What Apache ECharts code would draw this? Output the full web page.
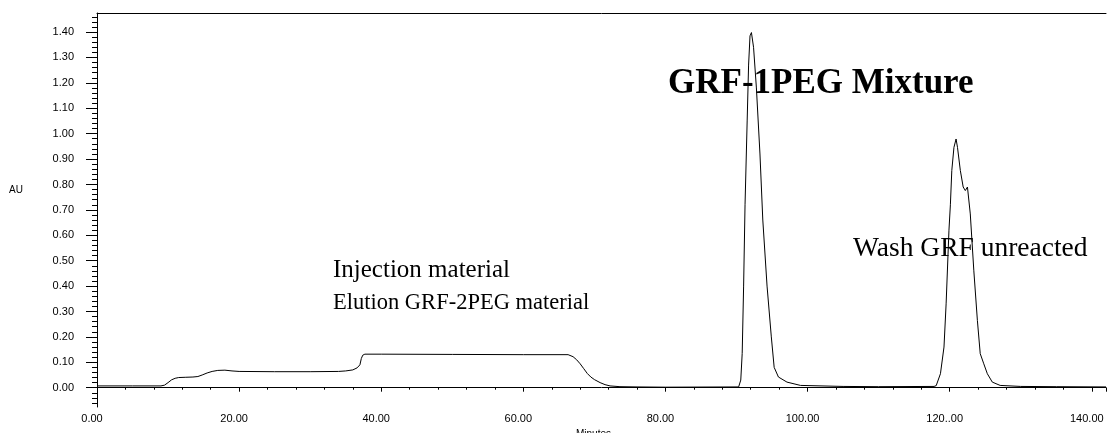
<!DOCTYPE html>
<html>
<head>
<meta charset="utf-8">
<script src="https://cdn.jsdelivr.net/npm/echarts@6/dist/echarts.min.js"></script>
<style>
html,body{margin:0;padding:0;background:#fff;}
#chart{width:1107px;height:433px;}
</style>
</head>
<body>
<div id="chart"></div>
<script>
// Retention time (minutes) and absorbance (AU)
const timeMin = [0,5,9,9.5,10,10.5,11,11.5,12.5,13.5,14.2,14.8,15.5,16.2,17,18,19,20,25,30,34,35,36,36.6,37,37.2,37.4,37.7,40,50,60,66.3,67,67.5,68,68.5,69,69.5,70,70.8,71.5,72.2,73.6,76,80,90.3,90.6,90.8,91.0,91.2,91.5,91.7,91.9,92.1,92.4,92.8,93.3,93.7,94.3,94.9,95.3,95.9,97.1,99,105,110,117.8,118.1,118.7,119.2,119.5,119.9,120.1,120.3,120.6,120.9,121.1,121.5,121.9,122.2,122.5,122.9,123.4,123.9,124.3,124.8,125.3,126.0,127.1,130,135,142];
const absorbance = [0.007,0.007,0.007,0.01,0.02,0.031,0.037,0.04,0.041,0.042,0.044,0.05,0.058,0.064,0.068,0.069,0.066,0.064,0.063,0.063,0.064,0.066,0.07,0.078,0.09,0.115,0.128,0.132,0.132,0.131,0.13,0.13,0.122,0.11,0.094,0.075,0.056,0.042,0.032,0.02,0.012,0.007,0.004,0.003,0.002,0.003,0.03,0.135,0.40,0.72,1.05,1.27,1.385,1.398,1.34,1.18,0.92,0.66,0.40,0.20,0.08,0.042,0.022,0.009,0.005,0.004,0.005,0.008,0.055,0.16,0.33,0.62,0.72,0.855,0.946,0.979,0.946,0.855,0.79,0.776,0.79,0.684,0.46,0.265,0.134,0.094,0.055,0.022,0.009,0.005,0.004,0.003];

const xTickValues = [0,20,40,60,80,100,120,140];
const xTickLabels = ['0.00','20.00','40.00','60.00','80.00','100.00','120..00','140.00'];
const yTickValues = [0,0.1,0.2,0.3,0.4,0.5,0.6,0.7,0.8,0.9,1.0,1.1,1.2,1.3,1.4];
const yTickLabels = ['0.00','0.10','0.20','0.30','0.40','0.50','0.60','0.70','0.80','0.90','1.00','1.10','1.20','1.30','1.40'];
const yMinorValues = [-0.06,-0.04,-0.02,0,0.02,0.04,0.06,0.08,0.1,0.12,0.14,0.16,0.18,0.2,0.22,0.24,0.26,0.28,0.3,0.32,0.34,0.36,0.38,0.4,0.42,0.44,0.46,0.48,0.5,0.52,0.54,0.56,0.58,0.6,0.62,0.64,0.66,0.68,0.7,0.72,0.74,0.76,0.78,0.8,0.82,0.84,0.86,0.88,0.9,0.92,0.94,0.96,0.98,1.0,1.02,1.04,1.06,1.08,1.1,1.12,1.14,1.16,1.18,1.2,1.22,1.24,1.26,1.28,1.3,1.32,1.34,1.36,1.38,1.4,1.42,1.44,1.46];

const yAxisTitle = 'AU';
const annotations = [
  {text:'GRF-1PEG Mixture', x:668, y:84, size:35, weight:'bold'},
  {text:'Injection material', x:333, y:270, size:25, weight:'normal'},
  {text:'Elution GRF-2PEG material', x:333, y:303, size:22.5, weight:'normal'},
  {text:'Wash GRF unreacted', x:853, y:249, size:27.5, weight:'normal'}
];

const seriesData = timeMin.map((t, i) => [t, absorbance[i]]);
const X_MIN = 0, X_MAX = 142, Y_MIN = -0.076, Y_MAX = 1.475;
const sans = '"Liberation Sans", Arial, sans-serif';
const serif = '"Liberation Serif", "Times New Roman", serif';

const chart = echarts.init(document.getElementById('chart'), null, {renderer:'canvas'});
chart.setOption({
  animation: false,
  backgroundColor: '#fff',
  grid: {left: 97, right: 1, top: 13, bottom: 26, containLabel: false, outerBoundsMode: 'none'},
  xAxis: [
    {
      type: 'value', position: 'bottom', min: X_MIN, max: X_MAX, interval: 20,
      name: 'Minutes', nameLocation: 'middle', nameGap: 17,
      nameTextStyle: {fontFamily: sans, fontSize: 10, color: '#000', padding: [0, 16, 0, 0]},
      axisLine: {show: true, lineStyle: {color: '#000', width: 1}},
      axisTick: {show: true, length: 4, lineStyle: {color: '#000'}},
      minorTick: {show: true, splitNumber: 5, length: 2, lineStyle: {color: '#000'}},
      splitLine: {show: false},
      axisLabel: {
        show: true, margin: 6, color: '#000', fontFamily: sans, fontSize: 11,
        padding: [0, 10, 0, 0], showMaxLabel: true,
        formatter: v => { const i = xTickValues.indexOf(Math.round(v*1000)/1000); return i >= 0 ? xTickLabels[i] : ''; }
      }
    },
    {
      type: 'value', position: 'top', min: X_MIN, max: X_MAX,
      axisLine: {show: true, onZero: false, lineStyle: {color: '#000', width: 1}},
      axisTick: {show: false}, axisLabel: {show: false}, splitLine: {show: false}
    }
  ],
  yAxis: [
    {
      type: 'value', position: 'left', min: Y_MIN, max: Y_MAX,
      axisLine: {show: true, onZero: false, lineStyle: {color: '#000', width: 1}},
      axisTick: {show: true, length: 11, customValues: yTickValues, lineStyle: {color: '#000'}},
      splitLine: {show: false},
      axisLabel: {
        show: true, margin: 23, color: '#000', fontFamily: sans, fontSize: 11,
        customValues: yTickValues,
        formatter: v => { let best = 0; yTickValues.forEach((t, i) => { if (Math.abs(t - v) < Math.abs(yTickValues[best] - v)) best = i; }); return yTickLabels[best]; }
      }
    },
    {
      type: 'value', position: 'left', min: Y_MIN, max: Y_MAX,
      axisLine: {show: false},
      axisTick: {show: true, length: 5, customValues: yMinorValues, lineStyle: {color: '#000'}},
      axisLabel: {show: false}, splitLine: {show: false}
    }
  ],
  graphic: [{
    type: 'text', left: 9, top: 185, silent: true,
    style: {text: yAxisTitle, fill: '#000', font: '10px ' + sans}
  }].concat(annotations.map(a => ({
    type: 'text', left: a.x, top: a.y - a.size * 0.5, silent: true,
    style: {text: a.text, fill: '#000', font: a.weight + ' ' + a.size + 'px ' + serif}
  }))),
  series: [{
    type: 'line', xAxisIndex: 0, yAxisIndex: 0, data: seriesData,
    showSymbol: false, smooth: false,
    lineStyle: {color: '#000', width: 1}
  }]
});
</script>
</body>
</html>
